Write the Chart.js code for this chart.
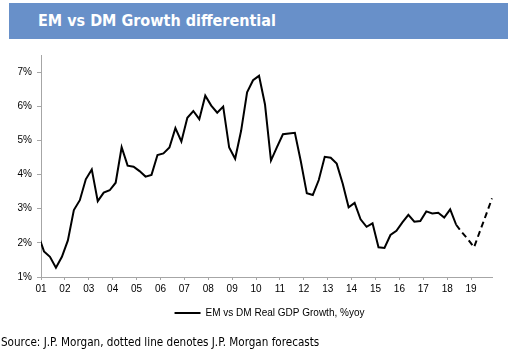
<!DOCTYPE html>
<html>
<head>
<meta charset="utf-8">
<script src="https://cdn.jsdelivr.net/npm/chart.js@4"></script>
<style>
  html, body { margin: 0; padding: 0; background: #fff; }
  #wrap { position: relative; width: 512px; height: 352px; overflow: hidden; }
  #banner { position: absolute; left: 9px; top: 3px; width: 499px; height: 36px; background: #6890c9; }
  #title { position: absolute; left: 29px; top: 0; line-height: 36px; color: #fff; font-family: 'DejaVu Sans Condensed', 'DejaVu Sans', sans-serif; font-weight: bold; font-size: 16px; white-space: nowrap; }
  #source { position: absolute; left: 1px; top: 335px; color: #000; font-family: 'DejaVu Sans Condensed', 'DejaVu Sans', sans-serif; font-size: 11.6px; white-space: nowrap; line-height: 15px; }
  canvas { position: absolute; left: 0; top: 0; }
</style>
</head>
<body>
<div id="wrap">
  <div id="banner"><div id="title">EM vs DM Growth differential</div></div>
  <canvas id="c" width="512" height="352"></canvas>
  <div id="source">Source: J.P. Morgan, dotted line denotes J.P. Morgan forecasts</div>
</div>
<script>
// Quarterly observations (2000Q4 .. 2018Q2) and J.P. Morgan forecasts (2018Q3 .. 2019Q4)
const actualQuarters = [
  '2000Q4',
  '2001Q1','2001Q2','2001Q3','2001Q4',
  '2002Q1','2002Q2','2002Q3','2002Q4',
  '2003Q1','2003Q2','2003Q3','2003Q4',
  '2004Q1','2004Q2','2004Q3','2004Q4',
  '2005Q1','2005Q2','2005Q3','2005Q4',
  '2006Q1','2006Q2','2006Q3','2006Q4',
  '2007Q1','2007Q2','2007Q3','2007Q4',
  '2008Q1','2008Q2','2008Q3','2008Q4',
  '2009Q1','2009Q2','2009Q3','2009Q4',
  '2010Q1','2010Q2','2010Q3','2010Q4',
  '2011Q1','2011Q2','2011Q3','2011Q4',
  '2012Q1','2012Q2','2012Q3','2012Q4',
  '2013Q1','2013Q2','2013Q3','2013Q4',
  '2014Q1','2014Q2','2014Q3','2014Q4',
  '2015Q1','2015Q2','2015Q3','2015Q4',
  '2016Q1','2016Q2','2016Q3','2016Q4',
  '2017Q1','2017Q2','2017Q3','2017Q4',
  '2018Q1','2018Q2'
];
const actualGrowth = [
  2.25,
  1.75, 1.59, 1.27, 1.59,
  2.07, 2.96, 3.25, 3.86,
  4.15, 3.22, 3.47, 3.54,
  3.76, 4.80, 4.26, 4.23,
  4.10, 3.94, 3.99, 4.57,
  4.62, 4.79, 5.36, 4.97,
  5.66, 5.86, 5.62, 6.31,
  6.02, 5.81, 5.99, 4.79,
  4.46, 5.28, 6.41, 6.76,
  6.89, 6.05, 4.41, 4.80,
  5.18, 5.20, 5.22, 4.38,
  3.45, 3.40, 3.84, 4.52,
  4.49, 4.32, 3.74, 3.04,
  3.17, 2.69, 2.47, 2.57,
  1.87, 1.85, 2.23, 2.35,
  2.60, 2.82, 2.62, 2.64,
  2.92, 2.86, 2.88, 2.74,
  2.98, 2.53
];
const forecastQuarters = ['2018Q3','2018Q4','2019Q1','2019Q2','2019Q3','2019Q4'];
const forecastGrowth = [2.30, 2.10, 1.87, 2.35, 2.82, 3.30];

const yearTicks = ['01','02','03','04','05','06','07','08','09','10','11','12','13','14','15','16','17','18','19'];
const yTickValues = [1, 2, 3, 4, 5, 6, 7];
const seriesName = 'EM vs DM Real GDP Growth, %yoy';

// quarter label -> position on a time (years) axis, at mid-quarter
function quarterPos(q) {
  const y = parseInt(q.slice(0, 4), 10);
  const n = parseInt(q.slice(5), 10);
  return y + (n - 0.5) / 4;
}
const allQuarters = actualQuarters.concat(forecastQuarters);
const allGrowth = actualGrowth.concat(forecastGrowth);
const points = allQuarters.map((q, i) => ({ x: quarterPos(q), y: allGrowth[i] }));
const lastActual = actualGrowth.length - 1;

const axisGrey = '#a6a6a6';
const tickFont = { family: "'Liberation Sans', Arial, sans-serif", size: 10 };

// shift the legend a little to the right, as in the original layout
const legendShift = {
  id: 'legendShift',
  afterLayout(chart) {
    if (chart.legend) { chart.legend.left += 47; }
  }
};

new Chart(document.getElementById('c'), {
  type: 'line',
  data: {
    datasets: [{
      label: seriesName,
      data: points,
      borderColor: '#000',
      backgroundColor: '#000',
      borderWidth: 2,
      pointRadius: 0,
      tension: 0,
      fill: false,
      clip: { left: 0, top: 5, right: 5, bottom: 5 },
      segment: {
        borderDash: ctx => ctx.p0DataIndex >= lastActual ? [6, 4] : undefined
      }
    }]
  },
  plugins: [legendShift],
  options: {
    responsive: false,
    animation: false,
    devicePixelRatio: 1,
    layout: { padding: { left: 0, right: 20, top: 55, bottom: 24 } },
    plugins: {
      tooltip: { enabled: false },
      title: { display: false },
      legend: {
        display: true,
        position: 'bottom',
        labels: {
          usePointStyle: true,
          pointStyle: 'line',
          pointStyleWidth: 26,
          padding: 10,
          color: '#000',
          font: tickFont
        }
      }
    },
    scales: {
      x: {
        type: 'linear',
        min: 2001,
        max: 2019.875,
        afterBuildTicks: s => { s.ticks = yearTicks.map((t, i) => ({ value: 2001 + i })); },
        afterFit: s => { s.height = 21; s.paddingLeft = 0; s.paddingRight = 0; },
        grid: { display: true, drawOnChartArea: false, drawTicks: true, tickLength: 3, color: axisGrey },
        border: { display: true, color: axisGrey, width: 1 },
        ticks: {
          autoSkip: false,
          maxRotation: 0,
          padding: 3,
          color: '#000',
          font: tickFont,
          callback: (v, i) => yearTicks[i]
        }
      },
      y: {
        type: 'linear',
        min: 1,
        max: 7.5,
        afterBuildTicks: s => { s.ticks = yTickValues.map(v => ({ value: v })); },
        afterFit: s => { s.width = 41; s.paddingTop = 0; s.paddingBottom = 0; },
        grid: { display: true, drawOnChartArea: false, drawTicks: true, tickLength: 4, color: axisGrey },
        border: { display: true, color: axisGrey, width: 1 },
        ticks: {
          padding: 5,
          color: '#000',
          font: tickFont,
          callback: v => v + '%'
        }
      }
    }
  }
});
</script>
</body>
</html>
